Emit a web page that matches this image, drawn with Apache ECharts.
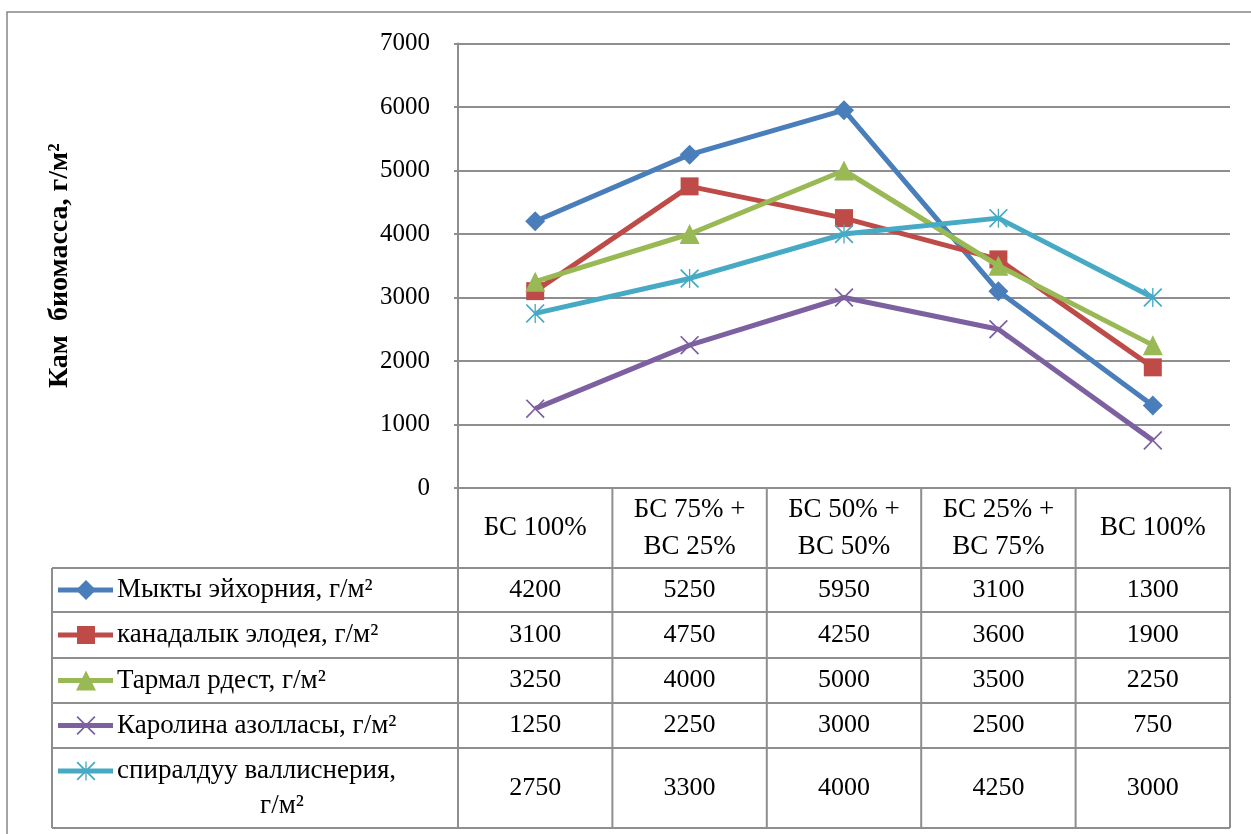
<!DOCTYPE html>
<html>
<head>
<meta charset="utf-8">
<script src="https://cdn.jsdelivr.net/npm/echarts@6/dist/echarts.min.js"></script>
<style>
  html, body { margin: 0; padding: 0; background: #ffffff; }
  #chart { width: 1251px; height: 834px; }
</style>
</head>
<body>
<div id="chart"></div>
<script>
// Treatment categories (header row of the data table)
const categories = ['БС 100%', 'БС 75% +\nВС 25%', 'БС 50% +\nВС 50%', 'БС 25% +\nВС 75%', 'ВС 100%'];

// Series names (first column of the data table)
const seriesNames = [
  'Мыкты эйхорния, г/м²',
  'канадалык элодея, г/м²',
  'Тармал рдест, г/м²',
  'Каролина азолласы, г/м²',
  'спиралдуу валлиснерия,\nг/м²'
];

// Biomass values, g/m²
const eichhornia  = [4200, 5250, 5950, 3100, 1300];
const elodea      = [3100, 4750, 4250, 3600, 1900];
const potamogeton = [3250, 4000, 5000, 3500, 2250];
const azolla      = [1250, 2250, 3000, 2500, 750];
const vallisneria = [2750, 3300, 4000, 4250, 3000];

// Value axis
const yMin = 0, yMax = 7000, yStep = 1000;
const yTitle = 'Кам  биомасса, г/м²';

const seriesData = [eichhornia, elodea, potamogeton, azolla, vallisneria];
const colors = ['#4A7EBB', '#BE4B48', '#98B954', '#7D60A0', '#46AAC5'];

const SERIF = "'Liberation Serif', 'DejaVu Serif', serif";
const GRID_COLOR = '#8E8E8E';

// marker shapes in a 20x20 box
const xPts = [[0,1.3],[1.3,0],[10,8.7],[18.7,0],[20,1.3],[11.3,10],[20,18.7],[18.7,20],[10,11.3],[1.3,20],[0,18.7],[8.7,10]];
const barPts = [[9.3,0],[10.7,0],[10.7,20],[9.3,20]];
const toPath = pts => 'M' + pts.map(p => p[0] + ',' + p[1]).join(' L') + ' Z';
const xPath = 'path://' + toPath(xPts);
const starPath = 'path://' + toPath(xPts) + ' ' + toPath(barPts);
const symbols = ['diamond', 'rect', 'triangle', xPath, starPath];
const symbolSizes = [20, 18, 20, 19, 19];

// layout of the plot and table
const plotLeft = 458, plotRight = 1230, plotTop = 43.5, plotBottom = 488;
const tableLeft = 52;
const headerBottom = 568;
const rowEdges = [568, 612, 658, 703, 748, 828];

const chart = echarts.init(document.getElementById('chart'), null, { renderer: 'canvas' });

chart.setOption({
  animation: false,
  backgroundColor: '#ffffff',
  grid: {
    left: plotLeft,
    right: 1251 - plotRight,
    top: plotTop,
    bottom: 834 - plotBottom,
    containLabel: false
  },
  xAxis: {
    type: 'category',
    data: categories,
    boundaryGap: true,
    axisLine: { show: true, lineStyle: { color: GRID_COLOR, width: 2 } },
    axisTick: { show: false },
    axisLabel: {
      show: true,
      interval: 0,
      margin: 40,
      verticalAlign: 'middle',
      align: 'center',
      fontFamily: SERIF,
      fontSize: 27,
      lineHeight: 37,
      color: '#000000'
    },
    splitLine: { show: false }
  },
  yAxis: {
    type: 'value',
    min: yMin,
    max: yMax,
    interval: yStep,
    name: yTitle,
    nameLocation: 'middle',
    nameRotate: 90,
    nameGap: 384,
    nameTextStyle: { fontFamily: SERIF, fontWeight: 'bold', fontSize: 28, color: '#000000' },
    axisLine: { show: true, lineStyle: { color: GRID_COLOR, width: 2 } },
    axisTick: { show: true, length: 4, lineStyle: { color: GRID_COLOR, width: 2 } },
    axisLabel: { margin: 28, fontFamily: SERIF, fontSize: 25, color: '#000000', formatter: v => String(v) },
    splitLine: { show: true, lineStyle: { color: GRID_COLOR, width: 2 } }
  },
  series: seriesData.map((d, i) => ({
    name: seriesNames[i],
    type: 'line',
    data: d,
    symbol: symbols[i],
    symbolSize: symbolSizes[i],
    showAllSymbol: true,
    lineStyle: { color: colors[i], width: 5 },
    itemStyle: { color: colors[i], borderWidth: 0 },
    emphasis: { disabled: true },
    z: 2 + i
  }))
});

// ---- data table under the plot ----
function line(x1, y1, x2, y2) {
  return { type: 'line', shape: { x1, y1, x2, y2 }, style: { stroke: GRID_COLOR, lineWidth: 2 }, silent: true, z: 1 };
}
function text(str, x, y, size, align) {
  return {
    type: 'text', silent: true, z: 10,
    style: {
      text: str, x, y,
      font: size + 'px ' + SERIF,
      fill: '#000000',
      textAlign: align || 'center', textVerticalAlign: 'middle',
      align: align || 'center', verticalAlign: 'middle'
    }
  };
}
function keyMarker(i, cx, cy) {
  const s = symbolSizes[i];
  const sc = p => [cx + (p[0] - 10) * s / 20, cy + (p[1] - 10) * s / 20];
  const st = { fill: colors[i] };
  if (i === 0) return [{ type: 'polygon', shape: { points: [[cx, cy - s/2], [cx + s/2, cy], [cx, cy + s/2], [cx - s/2, cy]] }, style: st, z: 11 }];
  if (i === 1) return [{ type: 'rect', shape: { x: cx - s/2, y: cy - s/2, width: s, height: s }, style: st, z: 11 }];
  if (i === 2) return [{ type: 'polygon', shape: { points: [[cx, cy - s/2], [cx + s/2, cy + s/2], [cx - s/2, cy + s/2]] }, style: st, z: 11 }];
  const out = [{ type: 'polygon', shape: { points: xPts.map(sc) }, style: st, z: 11 }];
  if (i === 4) out.push({ type: 'polygon', shape: { points: barPts.map(sc) }, style: st, z: 11 });
  return out;
}

const els = [];
// horizontal rules
els.push(line(tableLeft, headerBottom, plotRight, headerBottom));
rowEdges.slice(1).forEach(y => els.push(line(tableLeft, y, plotRight, y)));
// vertical rules
els.push(line(tableLeft, headerBottom, tableLeft, rowEdges[rowEdges.length - 1]));
const colW = (plotRight - plotLeft) / categories.length;
for (let c = 0; c <= categories.length; c++) {
  const x = plotLeft + c * colW;
  els.push(line(x, plotBottom, x, rowEdges[rowEdges.length - 1]));
}

// rows: legend key, name, values
seriesNames.forEach((name, i) => {
  const top = rowEdges[i], bottom = rowEdges[i + 1];
  const parts = name.split('\n');
  const cy = parts.length > 1 ? top + 23 : (top + bottom) / 2;
  els.push({ type: 'line', shape: { x1: 58, y1: cy, x2: 113, y2: cy }, style: { stroke: colors[i], lineWidth: 5 }, silent: true, z: 10 });
  keyMarker(i, 86, cy).forEach(e => els.push(e));
  els.push(text(parts[0], 117, cy, 27, 'left'));
  if (parts.length > 1) els.push(text(parts[1], 282, cy + 35, 27, 'center'));
  seriesData[i].forEach((v, c) => {
    const px = chart.convertToPixel({ xAxisIndex: 0 }, c);
    els.push(text(String(v), px, (top + bottom) / 2, 26, 'center'));
  });
});

// outer chart frame
els.push({ type: 'rect', shape: { x: 7, y: 12, width: 1400, height: 1000 }, style: { fill: 'none', stroke: '#868686', lineWidth: 1.5 }, silent: true, z: 0 });

chart.setOption({ graphic: els });
</script>
</body>
</html>
